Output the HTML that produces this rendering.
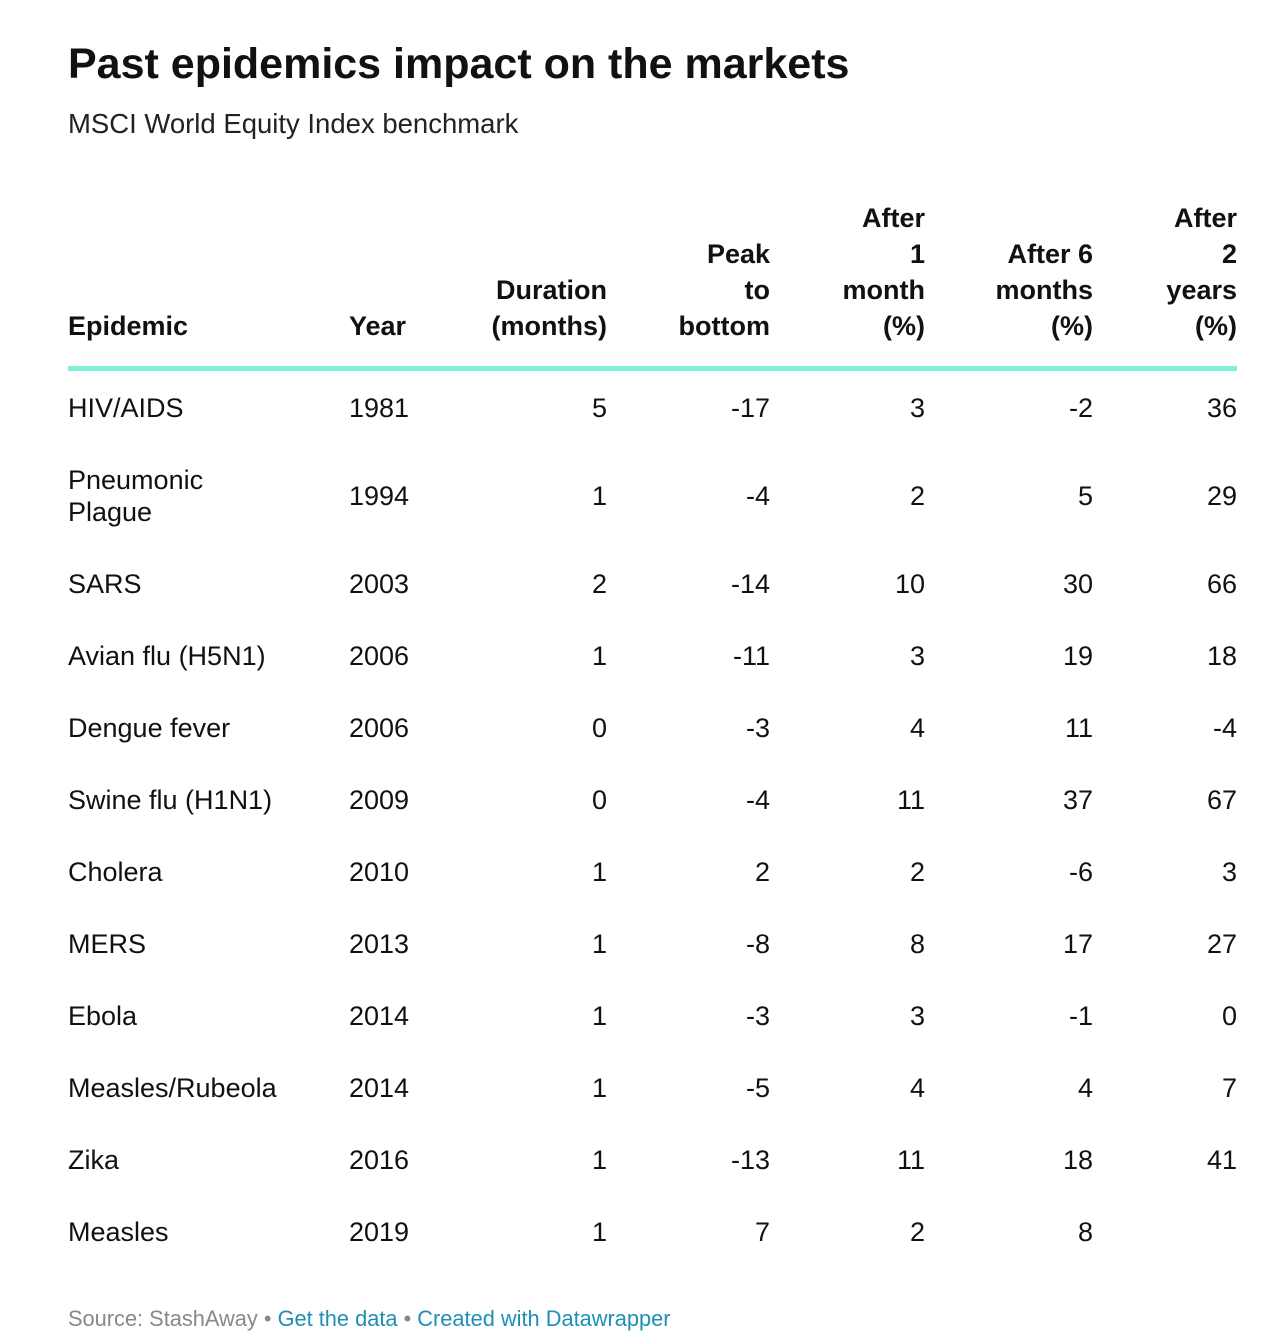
<!DOCTYPE html>
<html><head><meta charset="utf-8"><style>
body{margin:0;width:1268px;height:1340px;background:#fff;font-family:"Liberation Sans",sans-serif;color:#111;position:relative;overflow:hidden}
.a{position:absolute;white-space:nowrap}
#title{left:68px;top:40px;font-size:43px;font-weight:bold;letter-spacing:0}
#sub{left:68px;top:108px;font-size:27.5px;color:#222}
.h{position:absolute;bottom:996px;font-size:27px;font-weight:bold;line-height:36px;white-space:nowrap}
.c{position:absolute;font-size:27px;line-height:32px;white-space:nowrap}
#rule{position:absolute;left:68px;top:366px;width:1169px;height:5px;background:#7ff0d8}
#foot{left:68px;top:1306px;font-size:21.8px;color:#888}
#foot span{color:#1e8fb5}
</style></head><body>
<div id="title" class="a">Past epidemics impact on the markets</div>
<div id="sub" class="a">MSCI World Equity Index benchmark</div>
<div id="tbl"></div>
<div id="rule"></div>
<div id="foot" class="a">Source: StashAway • <span>Get the data</span> • <span>Created with Datawrapper</span></div>
<script>
const headers=["Epidemic","Year","Duration<br>(months)","Peak<br>to<br>bottom","After<br>1<br>month<br>(%)","After 6<br>months<br>(%)","After<br>2<br>years<br>(%)"];
const names=["HIV/AIDS","Pneumonic<br>Plague","SARS","Avian flu (H5N1)","Dengue fever","Swine flu (H1N1)","Cholera","MERS","Ebola","Measles/Rubeola","Zika","Measles"];
const years=["1981","1994","2003","2006","2006","2009","2010","2013","2014","2014","2016","2019"];
const duration=["5","1","2","1","0","0","1","1","1","1","1","1"];
const peak=["-17","-4","-14","-11","-3","-4","2","-8","-3","-5","-13","7"];
const after1=["3","2","10","3","4","11","2","8","3","4","11","2"];
const after6=["-2","5","30","19","11","37","-6","17","-1","4","18","8"];
const after2=["36","29","66","18","-4","67","3","27","0","7","41",""];
const cols=[{l:68},{l:349},{r:607},{r:770},{r:925},{r:1093},{r:1237}];
const rowCenters=[408,496,584,656,728,800,872,944,1016,1088,1160,1232];
const tbl=document.getElementById('tbl');
function place(el,c){if(c.l!==undefined)el.style.left=c.l+'px';else{el.style.right=(1268-c.r)+'px';el.style.textAlign='right';}}
headers.forEach((h,i)=>{const d=document.createElement('div');d.className='h';d.innerHTML=h;place(d,cols[i]);


tbl.appendChild(d);});
const series=[names,years,duration,peak,after1,after6,after2];
rowCenters.forEach((cy,r)=>{series.forEach((s,i)=>{const d=document.createElement('div');d.className='c';d.innerHTML=s[r];
const lines=(s[r].match(/<br>/g)||[]).length+1;d.style.top=(cy-lines*16)+'px';place(d,cols[i]);


tbl.appendChild(d);});});
</script>
</body></html>
